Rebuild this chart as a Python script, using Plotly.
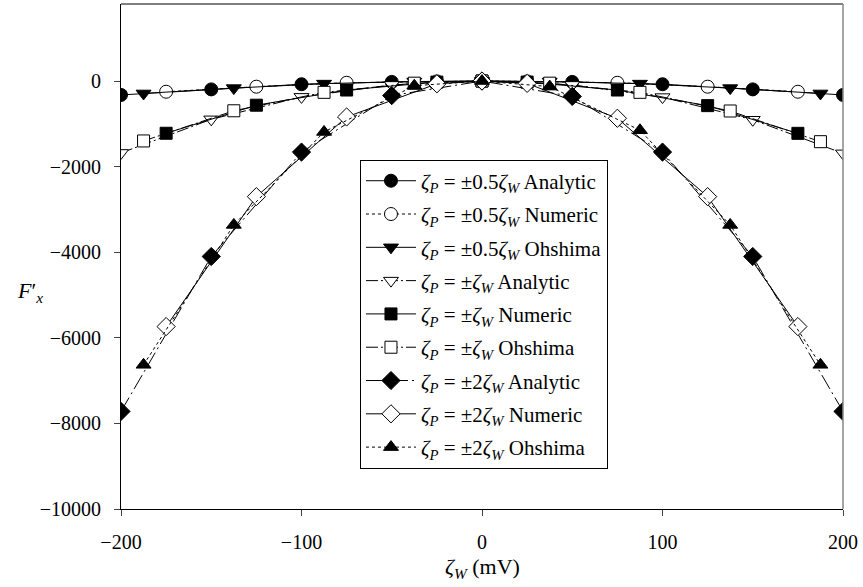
import plotly.graph_objects as go

# x positions (mV)
x_analytic = [-200, -150, -100, -50, 0, 50, 100, 150, 200]
x_numeric = [-175, -125, -75, -25, 0, 25, 75, 125, 175]
x_ohshima = [-187.5, -137.5, -87.5, -37.5, 0, 37.5, 87.5, 137.5, 187.5]

# F'x values
a05 = [-325, -195, -75, -20, 0, -20, -75, -195, -325]
n05 = [-250, -132, -40, -8, 0, -8, -40, -132, -250]
o05 = [-290, -165, -60, -12, 0, -12, -60, -165, -290]
a1 = [-1680, -895, -370, -90, 0, -90, -375, -905, -1690]
n1 = [-1220, -565, -210, -25, 0, -25, -210, -575, -1222]
o1 = [-1400, -695, -264, -50, 0, -50, -264, -700, -1417]
a2 = [-7720, -4100, -1660, -340, 0, -360, -1660, -4100, -7720]
n2 = [-5737, -2701, -840, -65, 0, -55, -870, -2701, -5737]
o2 = [-6631, -3362, -1190, -110, 0, -130, -1150, -3362, -6631]

x_ticks = [-200, -100, 0, 100, 200]
x_labels = ["−200", "−100", "0", "100", "200"]
y_ticks = [-10000, -8000, -6000, -4000, -2000, 0]
y_labels = ["−10000", "−8000", "−6000", "−4000", "−2000", "0"]

Z = "<i>ζ</i><sub><i>P</i></sub> = ±{k}<i>ζ</i><sub><i>W</i></sub> {m}"

series = [
    (x_analytic, a05, "0.5", "Analytic", "circle", True, "solid"),
    (x_numeric, n05, "0.5", "Numeric", "circle-open", False, "dot"),
    (x_ohshima, o05, "0.5", "Ohshima", "triangle-down", True, "solid"),
    (x_analytic, a1, "", "Analytic", "triangle-down-open", False, "12px,3px,2px,3px"),
    (x_numeric, n1, "", "Numeric", "square", True, "solid"),
    (x_ohshima, o1, "", "Ohshima", "square-open", False, "12px,3px,2px,3px"),
    (x_analytic, a2, "2", "Analytic", "diamond", True, "16px,4px,2px,4px"),
    (x_numeric, n2, "2", "Numeric", "diamond-open", False, "solid"),
    (x_ohshima, o2, "2", "Ohshima", "triangle-up", True, "dot"),
]

fig = go.Figure()
for i, (xs, ys, k, m, sym, filled, dash) in enumerate(series):
    size = 14 if "diamond" in sym else (12 if "square" in sym else 13)
    base = sym.replace("-open", "")
    fig.add_trace(go.Scatter(
        x=xs, y=ys, mode="lines+markers",
        name=Z.format(k=k, m=m),
        legendgroup=f"g{i}",
        line=dict(color="black", width=1, dash=dash),
        marker=dict(symbol=base, size=size,
                    color="black" if filled else "white",
                    line=dict(color="black", width=1)),
    ))

serif = "Liberation Serif"

fig.update_layout(
    width=863, height=587,
    margin=dict(l=121, r=20, t=4, b=78, autoexpand=False),
    paper_bgcolor="white", plot_bgcolor="white",
    font=dict(family=serif, size=20, color="black"),
    showlegend=True,
    legend=dict(
        x=0.331, y=0.386, xanchor="left", yanchor="middle",
        bordercolor="black", borderwidth=1, bgcolor="white",
        font=dict(family=serif, size=21),
        tracegroupgap=3, traceorder="grouped", itemwidth=50,
    ),
    xaxis=dict(
        range=[-200, 200], tickvals=x_ticks, ticktext=x_labels,
        ticks="outside", ticklen=6, ticklabelstandoff=9,
        showline=True, linecolor="black", linewidth=1,
        showgrid=False, zeroline=False,
        tickfont=dict(family=serif, size=20),
    ),
    yaxis=dict(
        range=[-10000, 1800], tickvals=y_ticks, ticktext=y_labels,
        ticks="outside", ticklen=6, ticklabelstandoff=9,
        showline=True, linecolor="black", linewidth=1,
        showgrid=False, zeroline=False,
        tickfont=dict(family=serif, size=20),
    ),
    shapes=[
        dict(type="line", xref="paper", yref="paper", x0=0, x1=1, y0=1, y1=1,
             line=dict(color="black", width=1)),
        dict(type="line", xref="paper", yref="paper", x0=1, x1=1, y0=0, y1=1,
             line=dict(color="#888888", width=1.5)),
    ],
    annotations=[
        dict(text="<i>F</i>′<sub><i>x</i></sub>", xref="paper", yref="paper",
             x=-0.126, y=0.43, xanchor="center", yanchor="middle",
             showarrow=False, font=dict(family=serif, size=22)),
        dict(text="<i>ζ</i><sub><i>W</i></sub> (mV)", xref="paper", yref="paper",
             x=0.5, y=-0.085, xanchor="center", yanchor="top",
             showarrow=False, font=dict(family=serif, size=22)),
    ],
)

fig.write_html("out.html")
